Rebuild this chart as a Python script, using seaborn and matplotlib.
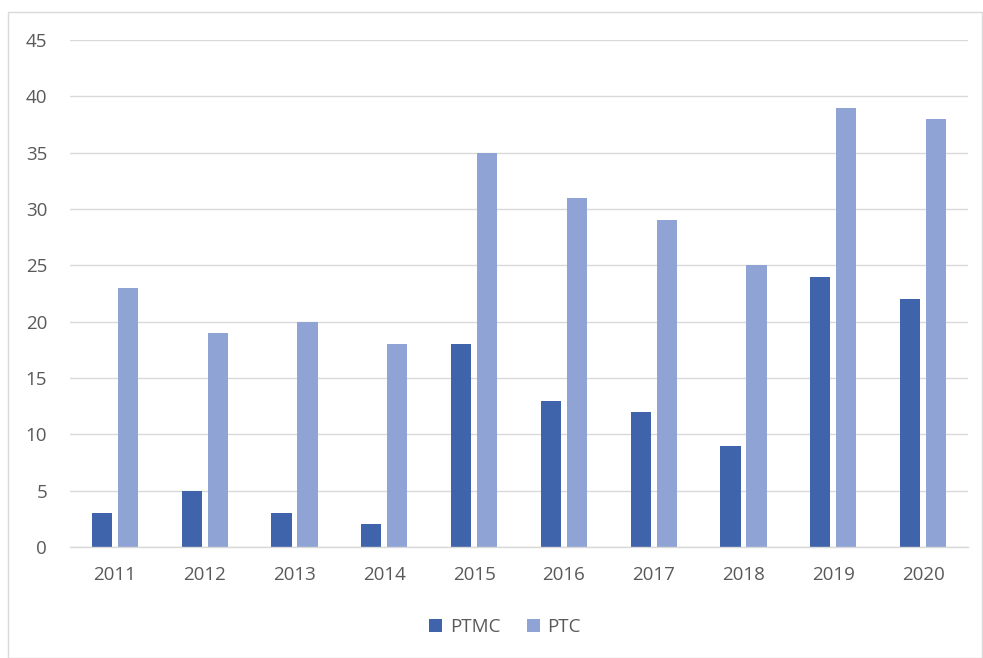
import matplotlib
matplotlib.use("Agg")
import matplotlib.pyplot as plt
import seaborn as sns
import pandas as pd
from matplotlib.patches import Rectangle, Patch

years = ["2011", "2012", "2013", "2014", "2015", "2016", "2017", "2018", "2019", "2020"]
ptmc = [3, 5, 3, 2, 18, 13, 12, 9, 24, 22]
ptc = [23, 19, 20, 18, 35, 31, 29, 25, 39, 38]
series_names = ["PTMC", "PTC"]
colors = ["#3F64AB", "#8FA4D4"]

df = pd.DataFrame({
    "year": years * 2,
    "value": ptmc + ptc,
    "series": [series_names[0]] * len(years) + [series_names[1]] * len(years),
})

sns.set_theme(style="white")
plt.rcParams["font.family"] = ["Open Sans", "DejaVu Sans"]

fig = plt.figure(figsize=(9.83, 6.58), dpi=100)
ax = fig.add_axes([70 / 983, 111 / 658, 898 / 983, 507 / 658])

sns.barplot(data=df, x="year", y="value", hue="series", palette=colors,
            width=0.58, gap=0.23, ax=ax, legend=False, saturation=1,
            linewidth=0, edgecolor="none")

ax.set_ylim(0, 45)
ax.set_yticks(range(0, 46, 5))
ax.set_xlim(-0.5, len(years) - 0.5)
ax.yaxis.grid(True, color="#D9D9D9", linewidth=1)
ax.set_axisbelow(True)
for s in ["top", "right", "left"]:
    ax.spines[s].set_visible(False)
ax.spines["bottom"].set_color("#D9D9D9")
ax.spines["bottom"].set_linewidth(1)
ax.tick_params(axis="y", length=0, pad=16.5, labelsize=13.5, labelcolor="#595959")
ax.tick_params(axis="x", length=0, pad=14, labelsize=13.5, labelcolor="#595959")
ax.set_xlabel("")
ax.set_ylabel("")

handles = [Patch(facecolor=c, edgecolor="none") for c in colors]
fig.legend(handles, series_names, loc="center", bbox_to_anchor=(505 / 983, 1 - 627 / 658),
           ncol=2, frameon=False, fontsize=13.5, labelcolor="#595959",
           handlelength=0.7, handleheight=0.7, handletextpad=0.4, columnspacing=1.4)

fig.patches.append(Rectangle((8 / 983, 0), 1 - 8 / 983 - 1 / 983, 1 - 12 / 658,
                             transform=fig.transFigure, fill=False,
                             edgecolor="#D9D9D9", linewidth=1))

fig.savefig("out.png", dpi=100)
